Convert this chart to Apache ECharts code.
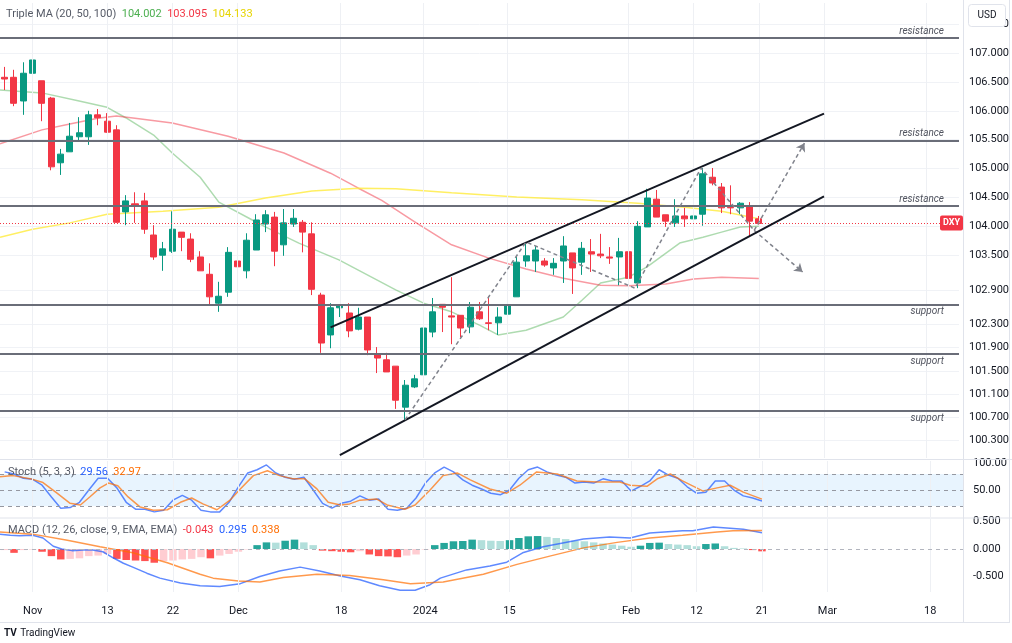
<!DOCTYPE html>
<html><head><meta charset="utf-8">
<script src="https://cdn.jsdelivr.net/npm/echarts/dist/echarts.min.js"></script>
<style>html,body{margin:0;padding:0;background:#fff}#c{width:1012px;height:643px}</style>
</head><body><div id="c"></div>
<script>
// ---------- DATA ----------
const dates = ['10/27','10/30','10/31',
 '11/01','11/02','11/03','11/06','11/07','11/08','11/09','11/10','11/13','11/14','11/15','11/16','11/17','11/20','11/21','11/22','11/23','11/24','11/27','11/28','11/29','11/30',
 '12/01','12/04','12/05','12/06','12/07','12/08','12/11','12/12','12/13','12/14','12/15','12/18','12/19','12/20','12/21','12/22','12/26','12/27','12/28','12/29',
 '01/02','01/03','01/04','01/05','01/08','01/09','01/10','01/11','01/12','01/15','01/16','01/17','01/18','01/19','01/22','01/23','01/24','01/25','01/26','01/29','01/30','01/31',
 '02/01','02/02','02/05','02/06','02/07','02/08','02/09','02/12','02/13','02/14','02/15','02/16','02/19','02/20','02/21','02/22','02/23','02/26','02/27','02/28','02/29',
 '03/01','03/04','03/05','03/06','03/07','03/08','03/11','03/12','03/13','03/14','03/15','03/18','03/19','03/20','03/21'];
const tickLabels = {'11/01':'Nov','11/13':'13','11/22':'22','12/01':'Dec','12/18':'18','01/02':'2024','01/15':'15','02/01':'Feb','02/12':'12','02/21':'21','03/01':'Mar','03/18':'18'};

const opens = [106.58,106.58,106.17,106.65,106.52,106.22,105.10,105.29,105.55,105.55,
 105.93,105.82,105.67,104.25,104.39,104.44,103.85,103.50,103.57,103.90,
 103.78,103.47,103.17,102.67,102.86,103.40,103.23,103.59,104.04,104.16,
 103.68,104.04,104.07,103.87,102.81,102.12,102.59,102.50,102.22,102.43,
 101.79,101.69,101.58,100.87,101.22,101.43,102.17,102.65,102.45,102.46,
 102.26,102.52,102.33,102.33,102.48,102.78,103.40,103.40,103.40,103.28,
 103.40,103.54,103.38,103.56,103.52,103.47,103.47,103.56,103.02,103.99,
 104.47,104.20,104.06,104.18,104.13,104.21,104.85,104.68,104.33,104.32,
 104.35,104.13];
const closes = [106.55,106.13,106.65,106.88,106.13,105.03,105.25,105.56,105.62,105.93,
 105.88,105.63,104.07,104.44,104.37,103.95,103.47,103.61,103.95,103.81,
 103.43,103.23,102.78,102.79,103.55,103.30,103.76,104.11,104.20,103.57,
 104.06,104.14,103.90,102.91,101.98,102.59,102.64,102.19,102.43,101.86,
 101.72,101.48,100.99,101.25,101.36,102.24,102.52,102.60,102.43,102.24,
 102.60,102.40,102.32,102.43,102.64,103.38,103.49,103.59,103.33,103.36,
 103.66,103.28,103.62,103.52,103.49,103.45,103.56,103.10,104.00,104.49,
 104.16,104.09,104.18,104.13,104.18,104.91,104.75,104.32,104.32,104.40,
 104.09,104.05];
const highs = [106.76,106.71,106.84,107.10,106.52,106.24,105.34,105.79,105.89,106.00,
 106.03,105.96,105.75,104.54,104.59,104.58,104.02,103.73,104.26,103.90,
 103.88,103.57,103.36,103.04,103.64,103.76,103.88,104.21,104.28,104.25,
 104.30,104.30,104.11,104.07,102.85,102.67,102.64,102.67,102.59,102.43,
 101.91,101.81,101.58,101.34,101.43,102.29,102.76,102.65,103.12,102.46,
 102.69,102.69,102.79,102.60,102.71,103.47,103.73,103.66,103.45,103.45,
 103.83,103.54,103.73,103.78,103.87,103.64,103.80,103.85,104.09,104.65,
 104.63,104.20,104.47,104.32,104.32,105.01,105.01,104.75,104.71,104.42,
 104.42,104.18];
const lows = [106.36,106.08,105.93,106.62,105.82,104.97,104.89,105.29,105.49,105.41,
 105.75,105.62,104.06,104.02,104.06,103.87,103.42,103.23,103.54,103.57,
 103.38,103.23,102.65,102.52,102.78,103.16,103.10,103.59,103.90,103.31,
 103.49,103.99,103.55,102.81,101.81,101.89,102.43,102.08,102.20,101.77,
 101.46,101.48,100.84,100.65,101.20,101.37,102.08,102.17,101.96,102.08,
 102.15,102.38,102.20,102.12,102.34,102.78,103.30,103.21,103.30,103.16,
 103.02,102.83,103.16,103.21,103.45,103.35,102.98,103.07,102.93,103.99,
 104.16,103.99,103.99,103.99,103.95,104.01,104.71,104.23,104.21,104.21,
 103.83,104.03];

// moving averages: [bar index, value]
const ma20 = [[-0.5,106.36],[4,106.31],[8,106.17],[11,106.06],[13,105.88],[16,105.58],[18,105.27],[21,104.85],[23,104.42],[26.6,104.11],[28,103.99],[31.6,103.71],[35.9,103.42],[42,102.90],[45,102.67],[48,102.52],[51,102.29],[53,102.12],[56,102.20],[60,102.43],[62,102.72],[64,103.02],[67,103.12],[69,103.30],[72.5,103.71],[75,103.81],[77,103.90],[79,103.99],[81,104.002]];
const ma50 = [[-0.5,105.43],[4,105.67],[7,105.77],[10,105.87],[12,105.91],[14,105.87],[18,105.79],[24,105.56],[30,105.27],[35,104.92],[38,104.66],[40.5,104.45],[44,104.08],[48,103.68],[52,103.45],[56,103.26],[60,103.10],[64,102.98],[67,102.97],[71,103.00],[74,103.09],[77,103.12],[81,103.095]];
const ma100 = [[-0.5,103.81],[3,103.95],[7,104.06],[11,104.21],[17,104.26],[23,104.33],[28,104.49],[33,104.61],[38,104.66],[42,104.65],[48,104.58],[55,104.51],[62,104.46],[68,104.40],[73,104.33],[77,104.26],[81,104.133]];

const resistance = [107.26, 105.48, 104.35];
const support = [102.65, 101.79, 100.80];
const channelUpper = [[35,102.25],[88,105.95]];
const channelLower = [[36,100.04],[88,104.52]];
const zigzag = [[43,100.65],[56,103.73],[67.7,102.93],[74.8,105.01],[80.5,103.93]];
const arrowUp = [[80.5,103.93],[85.9,105.44]];
const arrowDown = [[80.5,103.93],[85.7,103.21]];
const priceTicks = [107.5,107,106.5,106,105.5,105,104.5,104,103.5,102.9,102.3,101.9,101.5,101.1,100.7,100.3];

const stochK = [84,80,72,70,59,37,16,17,27,50,72,72,54,27,14,14,9,12,31,40,
 31,12,9,9,27,56,82,88,97,82,74,70,74,50,25,16,25,29,39,31,
 33,14,12,16,35,63,82,93,84,69,59,52,44,41,50,72,88,93,84,78,
 74,63,65,63,71,67,67,48,57,67,88,78,72,56,44,46,67,67,50,39,35,29.56];
const stochD = [[-0.5,75],[0.9,77],[3,70],[4.1,64],[5.6,44],[7,25],[8.1,22],[9.1,37],[10.2,54],[11.1,63],[12.1,58],[13.2,37],[14.5,18],[15.9,12],[17.4,13],[18.8,27],[20,35],[21.2,24],[22.7,13],[24.1,31],[25.2,52],[26.6,77],[28.1,86],[29.4,77],[30.8,71],[32.1,71],[33.4,52],[34.6,27],[35.9,22],[36.9,24],[38,31],[39.8,33],[40.9,22],[42.8,14],[43.9,22],[45.5,50],[46.9,77],[48.4,82],[49.8,69],[51.9,52],[53.7,44],[55.1,59],[56.9,84],[59.1,80],[61.2,67],[63.4,65],[65.8,65],[66.9,59],[68.7,57],[69.8,71],[71.2,80],[72.5,67],[74.7,48],[76.2,54],[77.6,59],[79,46],[81,32.97]];
const stochBands = [20, 50, 80];
const stochTicks = [50, 100];

const macdLine = [[-0.5,0.27],[0.6,0.25],[1.6,0.24],[3,0.25],[4.1,0.2],[5.2,0.05],[6.1,0],[7.2,-0.03],[8.4,-0.02],[9.4,-0.02],[10.5,-0.05],[11.6,-0.16],[12.7,-0.26],[13.7,-0.33],[15.2,-0.44],[16.6,-0.53],[18.8,-0.62],[20.9,-0.67],[23,-0.68],[25.2,-0.63],[27.3,-0.5],[29.4,-0.4],[31.6,-0.33],[33.7,-0.4],[35.9,-0.49],[38,-0.56],[40.1,-0.67],[42.3,-0.75],[43.9,-0.75],[45.5,-0.65],[46.6,-0.53],[49.4,-0.38],[51.9,-0.31],[53.7,-0.24],[55.4,-0.07],[57.6,0.04],[59.7,0.11],[61.9,0.18],[64.7,0.22],[66.9,0.2],[69,0.29],[72.5,0.33],[73.6,0.33],[75.8,0.4],[79,0.36],[81,0.295]];
const macdSignal = [[-0.5,0.31],[3,0.27],[6.7,0.16],[10.2,0.04],[13.7,-0.07],[17.4,-0.25],[20.9,-0.46],[22.3,-0.53],[25,-0.58],[27.3,-0.6],[29.8,-0.52],[33.4,-0.46],[36.9,-0.48],[40.5,-0.56],[43.4,-0.63],[46.9,-0.6],[51.2,-0.46],[54.8,-0.28],[58.3,-0.13],[61.9,0.02],[65.5,0.12],[69,0.2],[72.5,0.25],[76.2,0.31],[77.9,0.33],[81,0.338]];
const macdHist = [-0.02,-0.07,-0.02,-0.01,-0.05,-0.13,-0.19,-0.18,-0.17,-0.13,
 -0.12,-0.09,-0.18,-0.20,-0.21,-0.22,-0.25,-0.22,-0.21,-0.19,
 -0.18,-0.15,-0.17,-0.12,-0.09,-0.05,-0.01,0.07,0.12,0.115,
 0.15,0.17,0.12,0.07,-0.03,-0.04,-0.05,-0.06,-0.04,-0.10,
 -0.13,-0.135,-0.15,-0.12,-0.10,-0.01,0.07,0.11,0.14,0.145,
 0.17,0.16,0.15,0.145,0.16,0.20,0.23,0.235,0.22,0.20,
 0.18,0.15,0.14,0.12,0.10,0.08,0.06,0.04,0.06,0.11,
 0.115,0.09,0.08,0.07,0.05,0.09,0.10,0.05,0.02,0.01,-0.02,-0.043];
const macdTicks = [0.5, 0, -0.5];

// ---------- BUILD ----------
const N = dates.length;
const lastPrice = closes[closes.length - 1];
const tickIdx = dates.map((d,i)=> d in tickLabels ? i : -1).filter(i=>i>=0);
const candles = opens.map((o,i)=>[o, closes[i], lows[i], highs[i]]);
const hist = macdHist.map((v,i)=>{
  const p = i ? macdHist[i-1] : v;
  let c;
  if (v >= 0) c = v >= p ? '#26a69a' : '#b2dfdb';
  else c = v < p ? '#ff5252' : '#ffcdd2';
  return {value: v, itemStyle: {color: c}};
});
const last = a => a[a.length-1];
const FONT = 'Roboto, "Liberation Sans", sans-serif';
const TXT = '#131722';

const vGrid = (xi, yi) => ({
  type:'line', xAxisIndex:xi, yAxisIndex:yi, data:[], silent:true, z:1,
  markLine:{silent:true, symbol:'none', animation:false, label:{show:false},
    lineStyle:{color:'#eef0f4', width:1, type:'solid'},
    data: tickIdx.map(i=>({xAxis:i}))}
});
const levelLabel = pos => ({show:true, position:pos, formatter:'{b}', fontStyle:'italic', fontSize:10, color:'#50535e', distance:[15,2], fontFamily:FONT});

const option = {
  animation:false,
  textStyle:{fontFamily:FONT},
  grid:[
    {left:0, right:49, top:3, height:455},
    {left:0, right:49, top:461, height:56},
    {left:0, right:49, top:519, height:73}
  ],
  xAxis:[
    {type:'category', gridIndex:0, data:dates, show:false},
    {type:'value', gridIndex:0, min:-0.5, max:N-0.5, show:false},
    {type:'category', gridIndex:1, data:dates, show:false},
    {type:'value', gridIndex:1, min:-0.5, max:N-0.5, show:false},
    {type:'category', gridIndex:2, data:dates, axisLine:{show:false}, axisTick:{show:false},
      splitLine:{show:false},
      axisLabel:{interval:(i,v)=> v in tickLabels, formatter:v=>tickLabels[v]||'', color:TXT, fontSize:11, margin:14, fontFamily:FONT}},
    {type:'value', gridIndex:2, min:-0.5, max:N-0.5, show:false}
  ],
  yAxis:[
    {type:'value', gridIndex:0, position:'right', min:99.99, max:107.866,
      axisLine:{show:false}, axisTick:{show:false, customValues:priceTicks},
      axisLabel:{customValues:priceTicks, formatter:v=>v.toFixed(3), color:TXT, fontSize:11, margin:10, fontFamily:FONT},
      splitLine:{show:true, lineStyle:{color:'#f0f2f6'}}},
    {type:'value', gridIndex:1, position:'right', min:-0.6, max:104.4,
      axisLine:{show:false}, axisTick:{show:false, customValues:stochTicks},
      axisLabel:{customValues:stochTicks, formatter:v=>v.toFixed(2), color:TXT, fontSize:11, margin:10, fontFamily:FONT},
      splitLine:{show:false}},
    {type:'value', gridIndex:2, position:'right', min:-0.782, max:0.545,
      axisLine:{show:false}, axisTick:{show:false, customValues:macdTicks},
      axisLabel:{customValues:macdTicks, formatter:v=>v.toFixed(3), color:TXT, fontSize:11, margin:10, fontFamily:FONT},
      splitLine:{show:false}}
  ],
  series:[
    vGrid(1,0), vGrid(3,1), vGrid(5,2),
    {type:'candlestick', xAxisIndex:0, yAxisIndex:0, data:candles, barWidth:'70%', z:3,
      itemStyle:{color:'#089981', color0:'#f23645', borderColor:'#089981', borderColor0:'#f23645', borderWidth:1}},
    {type:'line', name:'MA20', xAxisIndex:1, yAxisIndex:0, data:ma20, symbol:'none', z:2,
      lineStyle:{color:'rgba(76,175,80,0.45)', width:1.5}},
    {type:'line', name:'MA50', xAxisIndex:1, yAxisIndex:0, data:ma50, symbol:'none', z:2,
      lineStyle:{color:'rgba(242,54,69,0.5)', width:1.5}},
    {type:'line', name:'MA100', xAxisIndex:1, yAxisIndex:0, data:ma100, symbol:'none', z:2,
      lineStyle:{color:'rgba(255,235,59,0.8)', width:1.5}},
    {type:'line', xAxisIndex:1, yAxisIndex:0, data:[], silent:true, z:5,
      markLine:{silent:true, symbol:'none', animation:false,
        lineStyle:{color:'#6a6d78', width:2, type:'solid'},
        data: resistance.map(v=>({yAxis:v, name:'resistance', label:levelLabel('insideEndTop')}))
          .concat(support.map(v=>({yAxis:v, name:'support', label:levelLabel('insideEndBottom')})))
          .concat([{yAxis:lastPrice, name:'', label:{show:false}, lineStyle:{color:'#f23645', width:1, type:[1,2]}}])}},
    {type:'line', xAxisIndex:1, yAxisIndex:0, data:channelUpper, symbol:'none', z:6,
      lineStyle:{color:'#131722', width:2}},
    {type:'line', xAxisIndex:1, yAxisIndex:0, data:channelLower, symbol:'none', z:6,
      lineStyle:{color:'#131722', width:2}},
    {type:'line', xAxisIndex:1, yAxisIndex:0, data:zigzag, symbol:'none', z:6,
      lineStyle:{color:'#80838c', width:1.5, type:[4,3]},
      markLine:{silent:true, symbol:['none','arrow'], symbolSize:8, animation:false, label:{show:false},
        lineStyle:{color:'#80838c', width:1.5, type:[4,3]},
        data:[[{coord:arrowUp[0]},{coord:arrowUp[1]}],[{coord:arrowDown[0]},{coord:arrowDown[1]}]]}},
    // stochastic
    {type:'line', xAxisIndex:2, yAxisIndex:1, data:stochK, symbol:'none', z:3,
      lineStyle:{color:'rgba(41,98,255,0.75)', width:1.5},
      markArea:{silent:true, itemStyle:{color:'rgba(33,150,243,0.10)'}, data:[[{yAxis:stochBands[0]},{yAxis:stochBands[2]}]]},
      markLine:{silent:true, symbol:'none', animation:false, label:{show:false},
        lineStyle:{color:'#9598a1', width:1, type:[4,4]},
        data: stochBands.map(v=>({yAxis:v}))}},
    {type:'line', xAxisIndex:3, yAxisIndex:1, data:stochD, symbol:'none', z:3,
      lineStyle:{color:'rgba(255,109,0,0.7)', width:1.5}},
    // MACD
    {type:'bar', xAxisIndex:4, yAxisIndex:2, data:hist, barWidth:'80%', z:2,
      markLine:{silent:true, symbol:'none', animation:false, label:{show:false},
        lineStyle:{color:'#b2b5be', width:1, type:[4,4]}, data:[{yAxis:0}]}},
    {type:'line', xAxisIndex:5, yAxisIndex:2, data:macdLine, symbol:'none', z:3,
      lineStyle:{color:'rgba(41,98,255,0.75)', width:1.5}},
    {type:'line', xAxisIndex:5, yAxisIndex:2, data:macdSignal, symbol:'none', z:3,
      lineStyle:{color:'rgba(255,109,0,0.7)', width:1.5}}
  ]
};

const chart = echarts.init(document.getElementById('c'));
chart.setOption(option);

const yLast = chart.convertToPixel({yAxisIndex:0}, lastPrice);
const g = [];
const hline = (y, x1, x2, c) => g.push({type:'line', silent:true, z:50, shape:{x1:x1, y1:y, x2:x2, y2:y}, style:{stroke:c||'#e0e3eb', lineWidth:1}});
const vline = (x, y1, y2, c) => g.push({type:'line', silent:true, z:50, shape:{x1:x, y1:y1, x2:x, y2:y2}, style:{stroke:c||'#e0e3eb', lineWidth:1}});
hline(459.5, 0, 1012);
hline(518, 0, 1012);
hline(622.5, 0, 1010);
vline(963.5, 0, 622);
vline(1009.5, 0, 622);
// USD box
g.push({type:'rect', z:60, shape:{x:968.5, y:4.5, width:37, height:22, r:3}, style:{fill:'#fff', stroke:'#e0e3eb', lineWidth:1}});
g.push({type:'text', z:61, style:{x:987, y:15.5, text:'USD', align:'center', verticalAlign:'middle', fill:TXT, font:'10px '+FONT}});
// DXY tag
g.push({type:'rect', z:60, shape:{x:940, y:yLast-8, width:23, height:15, r:2}, style:{fill:'#f23645'}});
g.push({type:'text', z:61, style:{x:951.5, y:yLast-0.5, text:'DXY', align:'center', verticalAlign:'middle', fill:'#fff', font:'bold 9px '+FONT}});
// legends
g.push({type:'text', z:61, style:{x:6, y:14, verticalAlign:'middle', font:'11px '+FONT,
  text:'{a|Triple MA (20, 50, 100)}  {g|'+last(ma20)[1].toFixed(3)+'}  {r|'+last(ma50)[1].toFixed(3)+'}  {y|'+last(ma100)[1].toFixed(3)+'}',
  rich:{a:{fill:'#555a66', font:'11px '+FONT}, g:{fill:'#4caf50', font:'11px '+FONT}, r:{fill:'#f23645', font:'11px '+FONT}, y:{fill:'#e6d400', font:'11px '+FONT}}}});
g.push({type:'text', z:61, style:{x:8, y:472, verticalAlign:'middle', font:'11px '+FONT,
  text:'{a|Stoch (5, 3, 3)}  {b|'+last(stochK).toFixed(2)+'}  {o|'+last(stochD)[1].toFixed(2)+'}',
  rich:{a:{fill:'#555a66', font:'11px '+FONT}, b:{fill:'#2962ff', font:'11px '+FONT}, o:{fill:'#ff6d00', font:'11px '+FONT}}}});
g.push({type:'text', z:61, style:{x:8, y:530, verticalAlign:'middle', font:'11px '+FONT,
  text:'{a|MACD (12, 26, close, 9, EMA, EMA)}  {r|'+last(macdHist).toFixed(3)+'}  {b|'+last(macdLine)[1].toFixed(3)+'}  {o|'+last(macdSignal)[1].toFixed(3)+'}',
  rich:{a:{fill:'#555a66', font:'11px '+FONT}, r:{fill:'#f23645', font:'11px '+FONT}, b:{fill:'#2962ff', font:'11px '+FONT}, o:{fill:'#ff6d00', font:'11px '+FONT}}}});
// logo
g.push({type:'text', z:61, style:{x:4, y:633, verticalAlign:'middle', text:'{l|TV} {t|TradingView}',
  rich:{l:{fill:TXT, font:'bold 10px '+FONT}, t:{fill:TXT, font:'10px '+FONT}}}});
chart.setOption({graphic:g});
</script>
</body></html>
